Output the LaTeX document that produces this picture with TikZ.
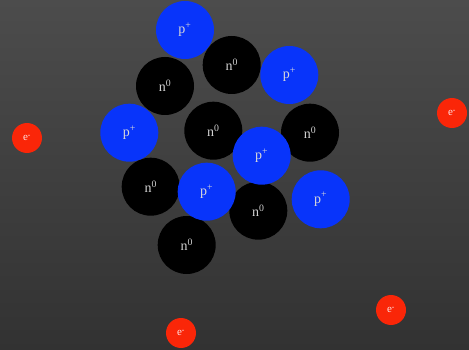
\documentclass[tikz,border=0pt]{standalone}
\usepackage{fontspec}
\setmainfont{Liberation Serif}
\begin{document}
\begin{tikzpicture}[x=1pt,y=-1pt,
  proton/.style={circle,fill=protonblue,minimum size=58pt,inner sep=0pt,text=white!85!black,font=\fontsize{14}{14}\selectfont},
  neutron/.style={circle,fill=black,minimum size=58pt,inner sep=0pt,text=white!82!black,font=\fontsize{14}{14}\selectfont},
  electron/.style={circle,fill=electronred,minimum size=30pt,inner sep=0pt,text=white!90!red,font=\fontsize{11}{11}\selectfont}]
\definecolor{protonblue}{RGB}{8,52,250}
\definecolor{electronred}{RGB}{250,38,8}
% background
\shade[top color={rgb,255:red,76;green,76;blue,76},bottom color={rgb,255:red,50;green,50;blue,50}] (0,0) rectangle (469,350);
\useasboundingbox (0,0) rectangle (469,350);
% neutrons
\node[neutron] (n1) at (231.7,65) {n\textsuperscript{0}};
\node[neutron] (n2) at (165,86) {n\textsuperscript{0}};
\node[neutron] (n3) at (213.3,130.7) {n\textsuperscript{0}};
\node[neutron] (n4) at (310,132.7) {n\textsuperscript{0}};
\node[neutron] (n5) at (150.7,186.7) {n\textsuperscript{0}};
\node[neutron] (n6) at (258.3,210.7) {n\textsuperscript{0}};
\node[neutron] (n7) at (186.7,245) {n\textsuperscript{0}};
% protons
\node[proton] (p1) at (185,30) {p\textsuperscript{+}};
\node[proton] (p2) at (289.3,75) {p\textsuperscript{+}};
\node[proton] (p3) at (129.3,132.7) {p\textsuperscript{+}};
\node[proton] (p4) at (261.7,155.7) {p\textsuperscript{+}};
\node[proton] (p5) at (206.7,191.7) {p\textsuperscript{+}};
\node[proton] (p6) at (320.7,199.3) {p\textsuperscript{+}};
% electrons
\node[electron] (e1) at (27,138) {e\textsuperscript{-}};
\node[electron] (e2) at (452,113) {e\textsuperscript{-}};
\node[electron] (e3) at (181,333) {e\textsuperscript{-}};
\node[electron] (e4) at (391,310) {e\textsuperscript{-}};
\end{tikzpicture}
\end{document}
